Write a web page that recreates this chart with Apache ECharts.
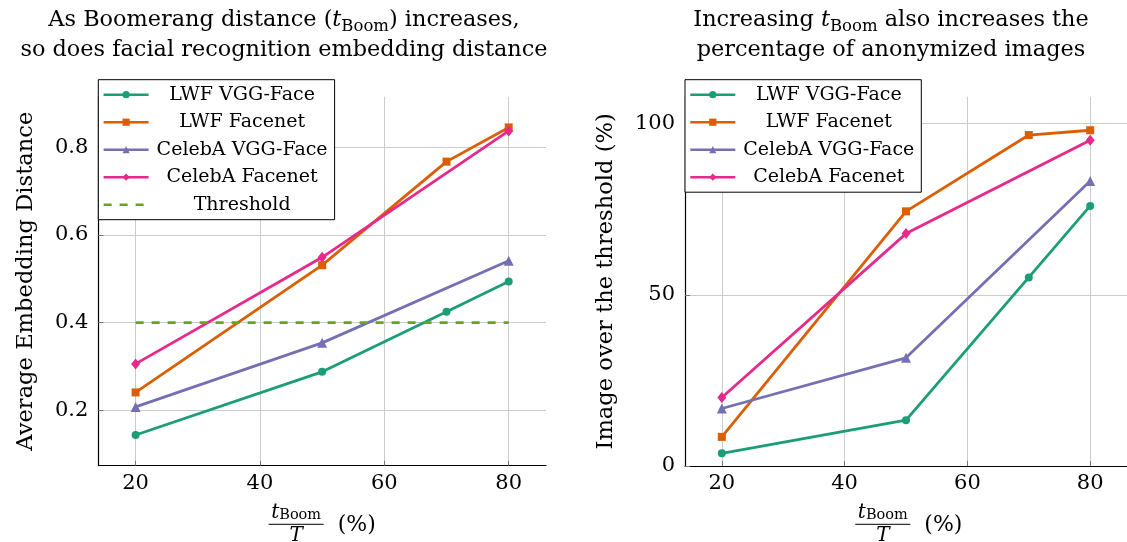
<!DOCTYPE html>
<html><head><meta charset="utf-8">
<script src="https://cdn.jsdelivr.net/npm/echarts@6/dist/echarts.min.js"></script>
<style>html,body{margin:0;padding:0;background:#fff}#c{width:1127px;height:542px}</style>
</head><body><div id="c"></div>
<script>
// ---- data ----
const seriesNames = ['LWF VGG-Face', 'LWF Facenet', 'CelebA VGG-Face', 'CelebA Facenet', 'Threshold'];
const xLWF = [20, 50, 70, 80];
const xCelebA = [20, 50, 80];
const xThreshold = [20, 80];
const distLwfVgg = [0.144, 0.288, 0.425, 0.494];
const distLwfFacenet = [0.241, 0.531, 0.767, 0.845];
const distCelebaVgg = [0.208, 0.354, 0.541];
const distCelebaFacenet = [0.306, 0.549, 0.837];
const thresholdValues = [0.4, 0.4];
const pctLwfVgg = [3.7, 13.4, 55.1, 76.0];
const pctLwfFacenet = [8.5, 74.4, 96.7, 98.1];
const pctCelebaVgg = [16.8, 31.6, 83.3];
const pctCelebaFacenet = [20.0, 67.9, 95.2];
const xTicks = [20, 40, 60, 80];
const distTicks = [0.2, 0.4, 0.6, 0.8];
const pctTicks = [0, 50, 100];
const leftTitle = ['As Boomerang distance (', 't', 'Boom', ') increases,', 'so does facial recognition embedding distance'];
const rightTitle = ['Increasing ', 't', 'Boom', ' also increases the', 'percentage of anonymized images'];
const leftYName = 'Average Embedding Distance';
const rightYName = 'Image over the threshold (%)';

// ---- style ----
const FONT = 'DejaVu Serif';
const colors = ['#1b9e77', '#d95f02', '#7570b3', '#e7298a', '#66a61e'];
const symbols = ['circle', 'rect', 'triangle', 'diamond', 'none'];
const symbolSizes = [8, 8, 10, [9, 11], 0];
const X_MIN = 14, X_MAX = 86;
const grids = [
  { left: 98.3, top: 96.7, width: 447.7, height: 369 },
  { left: 685, top: 96.7, width: 447.6, height: 369.3 }
];

function pairs(xs, ys) { return xs.map((x, i) => [x, ys[i]]); }

function makeSeries(name, idx, xs, ys, gi) {
  const s = {
    name: name, type: 'line', xAxisIndex: gi, yAxisIndex: gi,
    data: pairs(xs, ys),
    symbol: symbols[idx], symbolSize: symbolSizes[idx],
    showSymbol: symbols[idx] !== 'none',
    lineStyle: { color: colors[idx], width: 2.8 },
    itemStyle: { color: colors[idx] },
    emphasis: { disabled: true },
    animation: false, z: 3
  };
  if (idx === 4) s.lineStyle.type = [8, 8];
  return s;
}

const series = [
  makeSeries(seriesNames[0], 0, xLWF, distLwfVgg, 0),
  makeSeries(seriesNames[1], 1, xLWF, distLwfFacenet, 0),
  makeSeries(seriesNames[2], 2, xCelebA, distCelebaVgg, 0),
  makeSeries(seriesNames[3], 3, xCelebA, distCelebaFacenet, 0),
  makeSeries(seriesNames[4], 4, xThreshold, thresholdValues, 0),
  makeSeries(seriesNames[0], 0, xLWF, pctLwfVgg, 1),
  makeSeries(seriesNames[1], 1, xLWF, pctLwfFacenet, 1),
  makeSeries(seriesNames[2], 2, xCelebA, pctCelebaVgg, 1),
  makeSeries(seriesNames[3], 3, xCelebA, pctCelebaFacenet, 1)
];

function xAxis(gi) {
  return {
    type: 'value', gridIndex: gi, min: X_MIN, max: X_MAX,
    axisLine: { show: true, onZero: false, lineStyle: { color: '#000', width: 1.2 } },
    axisTick: { show: true, inside: true, length: 5, customValues: xTicks, lineStyle: { color: '#777', width: 1 } },
    axisLabel: { customValues: xTicks, fontFamily: FONT, fontSize: 21, color: '#000', margin: 7 },
    splitLine: { show: true, lineStyle: { color: '#cccccc', width: 1 } }
  };
}
function yAxis(gi, min, max, ticks, fmt, name, gap) {
  return {
    type: 'value', gridIndex: gi, min: min, max: max,
    name: name, nameLocation: 'middle', nameGap: gap, nameRotate: 90,
    nameTextStyle: { fontFamily: FONT, fontSize: 22.6, color: '#000' },
    axisLine: { show: true, onZero: false, lineStyle: { color: '#000', width: 1.2 } },
    axisTick: { show: true, inside: true, length: 5, customValues: ticks, lineStyle: { color: '#777', width: 1 } },
    axisLabel: { customValues: ticks, formatter: fmt, fontFamily: FONT, fontSize: 21, color: '#000', margin: 10 },
    splitLine: { show: true, lineStyle: { color: '#cccccc', width: 1 } }
  };
}

function legend(left, names) {
  return {
    data: names.map(n => n === 'Threshold'
      ? { name: n, itemStyle: { color: 'rgba(0,0,0,0)', borderWidth: 0, opacity: 0 } }
      : { name: n }),
    orient: 'vertical', left: left, top: 79.7,
    itemWidth: 45, itemHeight: 9, itemGap: 7.5,
    padding: [5, 4, 5, 4],
    backgroundColor: '#fff', borderColor: '#000', borderWidth: 1, borderRadius: 0,
    selectedMode: false, z: 10,
    lineStyle: { width: 2.6 },
    formatter: n => '{c|' + n + '}',
    textStyle: {
      fontFamily: FONT, fontSize: 19, color: '#000', lineHeight: 20,
      rich: { c: { width: 177, align: 'center', fontFamily: FONT, fontSize: 19, lineHeight: 20, color: '#000' } }
    }
  };
}

function titleText(cx, parts) {
  return {
    type: 'text', x: cx, y: 5, z: 20,
    style: {
      text: '{n|' + parts[0] + '}{i|' + parts[1] + '}{s|' + parts[2] + '}{n|' + parts[3] + '}\n{n|' + parts[4] + '}',
      align: 'center', verticalAlign: 'top',
      fontFamily: FONT, fontSize: 22.4, fill: '#000', lineHeight: 30,
      rich: {
        n: { fontFamily: FONT, fontSize: 22.4, lineHeight: 30, fill: '#000' },
        i: { fontFamily: FONT, fontSize: 22.4, fontStyle: 'italic', lineHeight: 30, fill: '#000' },
        s: { fontFamily: FONT, fontSize: 16.5, lineHeight: 17, verticalAlign: 'bottom', fill: '#000' }
      }
    }
  };
}

function xName(gi) {
  const g = grids[gi];
  const c = g.left + (50 - X_MIN) / (X_MAX - X_MIN) * g.width;
  return [
    { type: 'text', x: c - 26, y: 523, z: 20,
      style: { text: '{i|t}{s|Boom}', align: 'center', verticalAlign: 'bottom', fontFamily: FONT, fontSize: 20, fill: '#000',
        rich: { i: { fontFamily: FONT, fontSize: 20, fontStyle: 'italic', lineHeight: 21, fill: '#000' },
                s: { fontFamily: FONT, fontSize: 14.5, lineHeight: 15, verticalAlign: 'bottom', fill: '#000' } } } },
    { type: 'line', z: 20, shape: { x1: c - 53.5, y1: 524.3, x2: c + 1.5, y2: 524.3 }, style: { stroke: '#000', lineWidth: 1 } },
    { type: 'text', x: c - 26, y: 525.5, z: 20,
      style: { text: 'T', align: 'center', verticalAlign: 'top', fontFamily: FONT, fontSize: 20, fontStyle: 'italic', fill: '#000' } },
    { type: 'text', x: c + 15.5, y: 525, z: 20,
      style: { text: '(%)', align: 'left', verticalAlign: 'middle', fontFamily: FONT, fontSize: 22, fill: '#000' } }
  ];
}

const chart = echarts.init(document.getElementById('c'), null, { renderer: 'canvas' });
chart.setOption({
  animation: false,
  backgroundColor: '#fff',
  grid: grids.map(g => Object.assign({ containLabel: false }, g)),
  xAxis: [xAxis(0), xAxis(1)],
  yAxis: [
    yAxis(0, 0.074, 0.915, distTicks, v => v.toFixed(1), leftYName, 61),
    yAxis(1, 0, 107.9, pctTicks, v => String(v), rightYName, 67.5)
  ],
  legend: [legend(98.3, seriesNames), legend(685, seriesNames.slice(0, 4))],
  graphic: [titleText(284, leftTitle), titleText(891, rightTitle)].concat(xName(0), xName(1)),
  series: series
});
</script>
</body></html>
